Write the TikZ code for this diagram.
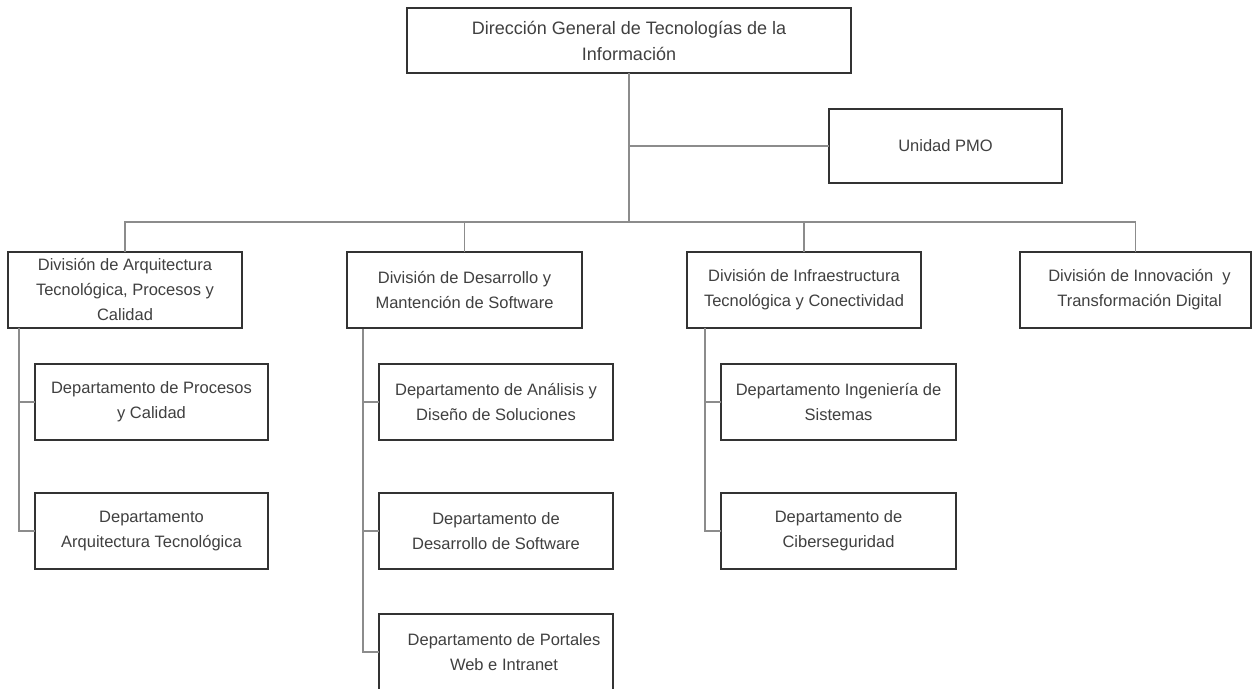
\documentclass[tikz,border=0pt]{standalone}
\usepackage{fontspec}
\setmainfont{Liberation Sans}
\begin{document}
\begin{tikzpicture}[x=1pt,y=-1pt,
  orgbox/.style={draw=black!80, line width=1.6pt, fill=white, anchor=north west,
    minimum height=76pt, inner sep=0pt, outer sep=0pt, align=center,
    text=black!75, font=\fontsize{16.5}{25}\selectfont},
  headbox/.style={orgbox, font=\fontsize{18}{26}\selectfont},
  link/.style={draw=black!45, line width=1.4pt}]
\useasboundingbox (0,0) rectangle (1252,688);
\begin{scope}
\clip (0,0) rectangle (1252,688);

% Top level and staff unit
\node[headbox, minimum width=444pt, minimum height=65pt] (dg) at (407,8)
  {Dirección\ General\ de\ Tecnologías\ de\ la\\Información};
\node[orgbox, minimum width=233pt, minimum height=74pt] (pmo) at (829,109) {Unidad PMO};

% Divisions
\node[orgbox, minimum width=234pt] (d1) at (8,252)
  {División de Arquitectura\\Tecnológica, Procesos y\\Calidad};
\node[orgbox, minimum width=235pt] (d2) at (347,252)
  {División de Desarrollo y\\Mantención de Software};
\node[orgbox, minimum width=234pt] (d3) at (687,252)
  {División de Infraestructura\\Tecnológica y Conectividad};
\node[orgbox, minimum width=231pt] (d4) at (1020,252)
  {\hspace*{8pt}División de Innovación\ \ y\\\hspace*{8pt}Transformación Digital};

% Departments
\node[orgbox, minimum width=233pt] (p1) at (35,364)
  {Departamento de Procesos\\y Calidad};
\node[orgbox, minimum width=233pt] (p2) at (35,493)
  {Departamento\\Arquitectura Tecnológica};
\node[orgbox, minimum width=234pt] (s1) at (379,364)
  {Departamento de Análisis y\\Diseño de Soluciones};
\node[orgbox, minimum width=234pt] (s2) at (379,493)
  {Departamento de\\Desarrollo de Software};
\node[orgbox, minimum width=234pt] (s3) at (379,614)
  {\hspace*{16pt}Departamento de Portales\\\hspace*{16pt}Web e Intranet};
\node[orgbox, minimum width=235pt] (i1) at (721,364)
  {Departamento Ingeniería de\\Sistemas};
\node[orgbox, minimum width=235pt] (i2) at (721,493)
  {Departamento de\\Ciberseguridad};

% Connector anchor points
\coordinate (bus) at (629,222);
\coordinate (sp1) at (19,328);
\coordinate (sp2) at (363,329);
\coordinate (sp3) at (705,328);

% Main spine, staff branch and division bus
\draw[link] (dg.south) -- (dg.south |- bus);
\draw[link] (dg.south |- pmo.west) -- (pmo.west);
\draw[link] (d1.north) -- (d1.north |- bus) -- (d4.north |- bus) -- (d4.north);
\draw[link] (d2.north |- bus) -- (d2.north);
\draw[link] (d3.north |- bus) -- (d3.north);

% Department spines
\draw[link] (sp1) |- (p2.west);
\draw[link] (sp1 |- p1.west) -- (p1.west);
\draw[link] (sp2) |- (s3.west);
\draw[link] (sp2 |- s1.west) -- (s1.west);
\draw[link] (sp2 |- s2.west) -- (s2.west);
\draw[link] (sp3) |- (i2.west);
\draw[link] (sp3 |- i1.west) -- (i1.west);
\end{scope}
\end{tikzpicture}
\end{document}
